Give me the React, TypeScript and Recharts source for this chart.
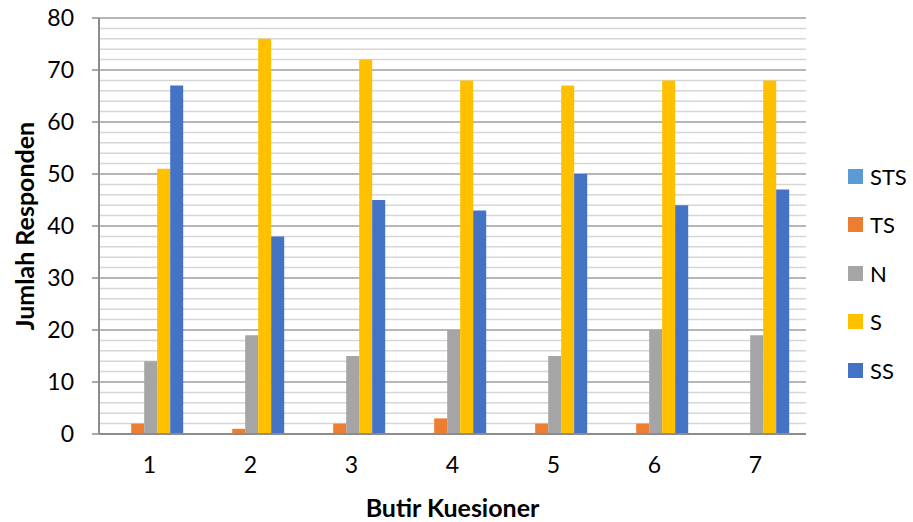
import React from "react";
import {
  Bar,
  BarChart,
  CartesianGrid,
  Legend,
  XAxis,
  YAxis,
} from "recharts";

const butir = ["1", "2", "3", "4", "5", "6", "7"];
const sts = [0, 0, 0, 0, 0, 0, 0];
const ts = [2, 1, 2, 3, 2, 2, 0];
const netral = [14, 19, 15, 20, 15, 20, 19];
const setuju = [51, 76, 72, 68, 67, 68, 68];
const sangatSetuju = [67, 38, 45, 43, 50, 44, 47];

const yTicks = [0, 10, 20, 30, 40, 50, 60, 70, 80];
const minorLines = [2, 4, 6, 8, 12, 14, 16, 18, 22, 24, 26, 28, 32, 34, 36, 38, 42, 44, 46, 48, 52, 54, 56, 58, 62, 64, 66, 68, 72, 74, 76, 78];

const series = [
  { key: "STS", color: "#5B9BD5" },
  { key: "TS", color: "#ED7D31" },
  { key: "N", color: "#A5A5A5" },
  { key: "S", color: "#FFC000" },
  { key: "SS", color: "#4472C4" },
];

const chartData = butir.map((label, i) => ({
  label,
  STS: sts[i],
  TS: ts[i],
  N: netral[i],
  S: setuju[i],
  SS: sangatSetuju[i],
}));

const FONT = "Lato, 'Open Sans', sans-serif";

function LegendList() {
  return (
    <div style={{ fontFamily: FONT, fontSize: 22, color: "#000" }}>
      {series.map((s) => (
        <div key={s.key} style={{ display: "flex", alignItems: "center", height: 48.5 }}>
          <span style={{ width: 15, height: 15, background: s.color, marginRight: 7, display: "inline-block" }} />
          <span>{s.key}</span>
        </div>
      ))}
    </div>
  );
}

export default function App() {
  return (
    <div style={{ position: "absolute", left: 0, top: 0, width: 913, height: 522, background: "#fff" }}>
      <BarChart
        width={913}
        height={522}
        data={chartData}
        margin={{ top: 18, right: 107, left: 0, bottom: 0 }}
        barCategoryGap="19%"
        barGap={0}
      >
        <CartesianGrid
          vertical={false}
          horizontalValues={minorLines}
          stroke="#d6d6d6"
          strokeWidth={1.5}
        />
        <CartesianGrid
          vertical={false}
          horizontalValues={yTicks}
          stroke="#9e9e9e"
          strokeWidth={1.5}
        />
        <XAxis
          dataKey="label"
          height={88}
          tickLine={false}
          tickSize={0}
          tickMargin={23}
          axisLine={{ stroke: "#8c8c8c", strokeWidth: 2 }}
          tick={{ fill: "#000", fontSize: 23, fontFamily: FONT }}
          label={{
            value: "Butir Kuesioner",
            position: "insideBottom",
            offset: 5,
            style: { fill: "#000", fontSize: 25, fontWeight: 700, fontFamily: FONT },
          }}
        />
        <YAxis
          width={99}
          domain={[0, 80]}
          ticks={yTicks}
          interval={0}
          tickSize={7}
          tickMargin={18}
          axisLine={{ stroke: "#8c8c8c", strokeWidth: 2 }}
          tickLine={{ stroke: "#8c8c8c", strokeWidth: 1.5 }}
          tick={{ fill: "#000", fontSize: 23, fontFamily: FONT }}
          label={{
            value: "Jumlah Responden",
            angle: -90,
            position: "insideLeft",
            offset: 25,
            style: { fill: "#000", fontSize: 25, fontWeight: 700, fontFamily: FONT, textAnchor: "middle" },
          }}
        />
        <Legend
          layout="vertical"
          align="center"
          verticalAlign="middle"
          content={() => <LegendList />}
          wrapperStyle={{ left: 848, top: 152, width: 65 }}
        />
        {series.map((s) => (
          <Bar key={s.key} dataKey={s.key} fill={s.color} isAnimationActive={false} />
        ))}
      </BarChart>
    </div>
  );
}
